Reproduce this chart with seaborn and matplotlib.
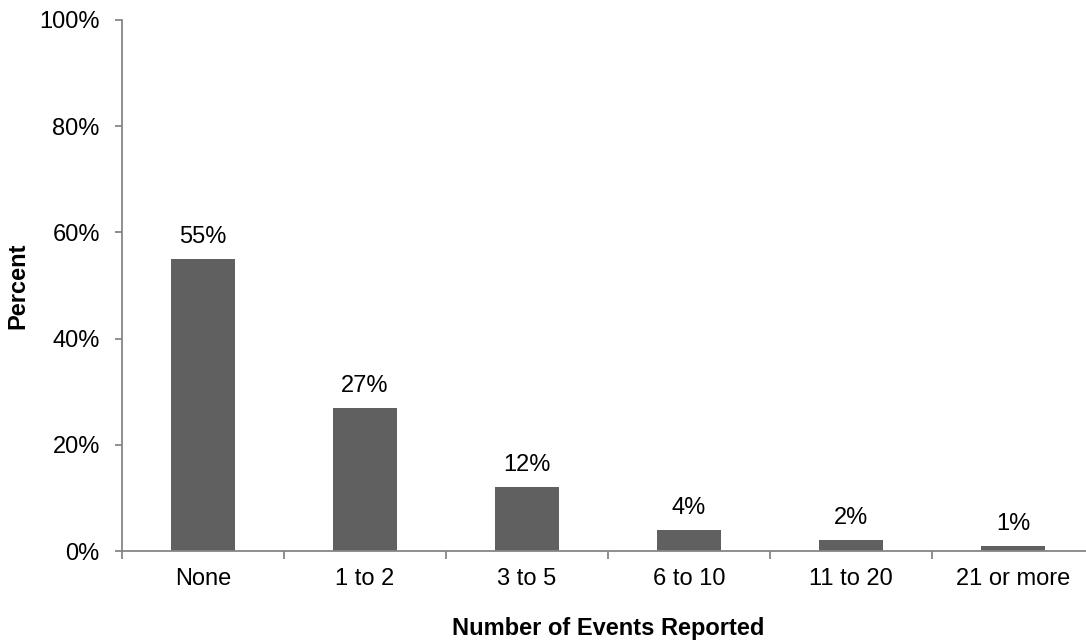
import matplotlib
matplotlib.use("Agg")
import matplotlib.pyplot as plt
import seaborn as sns
import pandas as pd
from matplotlib.ticker import FixedLocator, FuncFormatter

categories = ["None", "1 to 2", "3 to 5", "6 to 10", "11 to 20", "21 or more"]
percents = [55, 27, 12, 4, 2, 1]
y_ticks = [0, 20, 40, 60, 80, 100]
x_title = "Number of Events Reported"
y_title = "Percent"

sns.set_theme(style="white")
plt.rcParams['font.family'] = ['Liberation Sans', 'DejaVu Sans']

FS = 17
W, H = 1086, 641
fig = plt.figure(figsize=(W / 100, H / 100), dpi=100)
ax = fig.add_axes([122 / W, 90 / H, (1094 - 122) / W, (551 - 20) / H])

df = pd.DataFrame({"cat": categories, "pct": percents})
sns.barplot(data=df, x="cat", y="pct", color="#606060", saturation=1,
            width=0.395, linewidth=0, ax=ax)

ax.set_xlim(-0.5, len(categories) - 0.5)
ax.set_ylim(0, 100)

spine_c = "#868686"
for s in ["top", "right"]:
    ax.spines[s].set_visible(False)
for s in ["left", "bottom"]:
    ax.spines[s].set_color(spine_c)
    ax.spines[s].set_linewidth(1.3)

ax.yaxis.set_major_locator(FixedLocator(y_ticks))
ax.yaxis.set_major_formatter(FuncFormatter(lambda v, p: f"{v:.0f}%"))
ax.tick_params(axis="y", which="major", left=True, length=5, width=1.3,
               color=spine_c, labelsize=FS, labelcolor="black", pad=11)

ax.xaxis.set_minor_locator(FixedLocator([i - 0.5 for i in range(len(categories) + 1)]))
ax.tick_params(axis="x", which="minor", bottom=True, length=6, width=1.3,
               color=spine_c, direction="out")
ax.tick_params(axis="x", which="major", bottom=False, length=0,
               labelsize=FS, labelcolor="black", pad=12)

for i, v in enumerate(percents):
    ax.annotate(f"{v}%", xy=(i, v), xytext=(0, 8), textcoords="offset points",
                ha="center", va="bottom", fontsize=FS, color="black")

ax.set_xlabel(x_title, fontsize=FS, fontweight="bold", color="black")
ax.xaxis.set_label_coords(0.5, -(628 - 551) / 531)
ax.xaxis.label.set_va("center")
ax.set_ylabel(y_title, fontsize=FS, fontweight="bold", color="black")
ax.yaxis.set_label_coords((18 - 122) / 972, 0.5)
ax.yaxis.label.set_va("center")

fig.savefig("out.png", dpi=100)
